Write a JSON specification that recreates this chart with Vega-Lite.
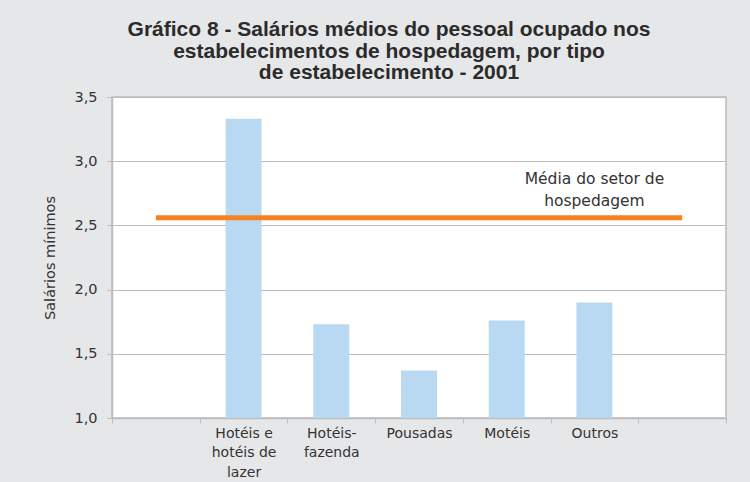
{
  "$schema": "https://vega.github.io/schema/vega-lite/v6.json",
  "width": 614,
  "height": 321,
  "autosize": {"type": "none"},
  "padding": {"left": 112, "top": 97, "right": 24, "bottom": 64},
  "background": "#e6e7e8",
  "title": {
    "text": ["Gráfico 8 - Salários médios do pessoal ocupado nos", "estabelecimentos de hospedagem, por tipo", "de estabelecimento - 2001"],
    "anchor": "middle",
    "frame": "group",
    "dx": -30,
    "offset": 6,
    "font": "Liberation Sans",
    "fontSize": 21,
    "fontWeight": "bold",
    "lineHeight": 21.5,
    "color": "#2b2b2b"
  },
  "config": {
    "view": {"stroke": "#bdbdbd", "strokeWidth": 1.5, "fill": "white"},
    "axis": {"labelFont": "DejaVu Sans", "titleFont": "DejaVu Sans", "labelColor": "#333333", "titleColor": "#333333", "domainColor": "#bdbdbd", "tickColor": "#bdbdbd", "gridColor": "#bdbdbd", "domainWidth": 1.5, "gridWidth": 1.2}
  },
  "data": {
    "values": [
      {"tipo": "Hotéis e\nhotéis de\nlazer", "salario": 3.33},
      {"tipo": "Hotéis-\nfazenda", "salario": 1.73},
      {"tipo": "Pousadas", "salario": 1.37},
      {"tipo": "Motéis", "salario": 1.76},
      {"tipo": "Outros", "salario": 1.90}
    ]
  },
  "layer": [
    {
      "mark": {"type": "bar", "color": "#b8d9f1", "width": {"band": 0.41}, "clip": true},
      "encoding": {
        "x": {
          "field": "tipo",
          "type": "nominal",
          "sort": null,
          "scale": {"domain": ["", "Hotéis e\nhotéis de\nlazer", "Hotéis-\nfazenda", "Pousadas", "Motéis", "Outros", " "], "paddingInner": 0, "paddingOuter": 0},
          "axis": {
            "title": null,
            "labelAngle": 0,
            "labelFontSize": 14,
            "labelLineHeight": 19.5,
            "labelPadding": 3,
            "labelBaseline": "top",
            "tickBand": "extent",
            "tickSize": 5,
            "labelExpr": "split(datum.label, '\\n')",
            "grid": false
          }
        },
        "y": {
          "field": "salario",
          "type": "quantitative",
          "scale": {"domain": [1, 3.5], "nice": false, "zero": false},
          "axis": {
            "title": "Salários mínimos",
            "titleFontSize": 14.5,
            "titleFontWeight": "normal",
            "titlePadding": 16,
            "values": [1, 1.5, 2, 2.5, 3, 3.5],
            "labelExpr": "replace(format(datum.value, '.1f'), '.', ',')",
            "labelFontSize": 14.5,
            "labelPadding": 10,
            "tickSize": 5,
            "grid": true
          }
        }
      }
    },
    {
      "data": {"values": [{"inicio": "", "fim": " ", "media": 2.56}]},
      "mark": {"type": "rule", "color": "#f5821f", "strokeWidth": 5},
      "encoding": {
        "x": {"field": "inicio", "type": "nominal"},
        "x2": {"field": "fim"},
        "y": {"field": "media", "type": "quantitative"}
      }
    },
    {
      "data": {"values": [{"nota": "Média do setor de\nhospedagem"}]},
      "mark": {"type": "text", "font": "DejaVu Sans", "fontSize": 15.5, "color": "#333333", "lineHeight": 22, "align": "center", "baseline": "middle"},
      "encoding": {
        "x": {"datum": "Outros", "type": "nominal"},
        "y": {"datum": 2.86, "type": "quantitative"},
        "text": {"value": ["Média do setor de", "hospedagem"]}
      }
    }
  ]
}
